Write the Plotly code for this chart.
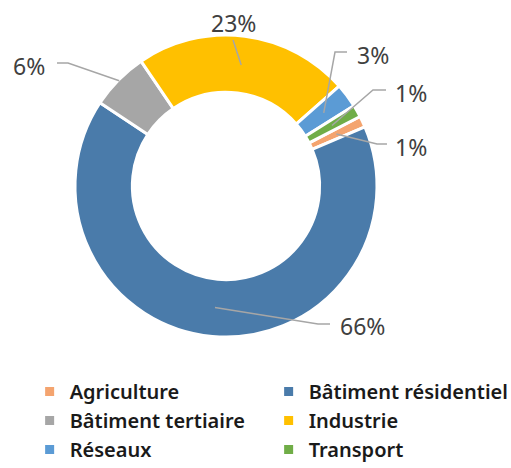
import math
import plotly.graph_objects as go

# Répartition par secteur (%)
SECTEURS = ["Agriculture", "Bâtiment résidentiel", "Bâtiment tertiaire",
            "Industrie", "Réseaux", "Transport"]
PARTS = [1.2, 65.7, 6.2, 23.0, 2.6, 1.3]
COULEURS = ["#F4A46F", "#4A7BAA", "#A6A6A6", "#FFC000", "#5B9BD5", "#70AD47"]

W, H = 511, 468
CX, CY, R_OUT, HOLE = 226, 186, 151, 0.62
ROTATION = 62.6

# label placement (pixels): text anchor, anchor side, elbow points, leader radius
LABELS = [
    dict(tx=393, ty=147, side="left", elbow=[(387, 144), (377, 144)], r=122),
    dict(tx=338, ty=326, side="left", elbow=[(330, 324), (318, 324)], r=122),
    dict(tx=47, ty=66, side="right", elbow=[(57, 63), (68, 63)], r=150),
    dict(tx=233, ty=23, side="center", elbow=[(233, 40)], r=122),
    dict(tx=355, ty=55, side="left", elbow=[(347, 52), (335, 52)], r=122),
    dict(tx=393, ty=93, side="left", elbow=[(386, 90), (373, 90)], r=122),
]


def px(x, y):
    return x / W, 1 - y / H


fig = go.Figure(go.Pie(
    labels=SECTEURS,
    values=PARTS,
    hole=HOLE,
    sort=False,
    direction="clockwise",
    rotation=ROTATION,
    marker=dict(colors=COULEURS, line=dict(color="white", width=3)),
    textinfo="none",
    domain=dict(x=[(CX - R_OUT) / W, (CX + R_OUT) / W],
                y=[1 - (CY + R_OUT) / H, 1 - (CY - R_OUT) / H]),
))

total = sum(PARTS)
cum = 0
shapes, annotations = [], []
for val, lab in zip(PARTS, LABELS):
    mid = math.radians(ROTATION + (cum + val / 2) / total * 360)
    cum += val
    ax = CX + lab["r"] * math.sin(mid)
    ay = CY - lab["r"] * math.cos(mid)
    pts = lab["elbow"] + [(ax, ay)]
    path = "M " + " L ".join("%.4f,%.4f" % px(x, y) for x, y in pts)
    shapes.append(dict(type="path", xref="paper", yref="paper", path=path,
                       line=dict(color="#A6A6A6", width=1.5)))
    x, y = px(lab["tx"], lab["ty"])
    annotations.append(dict(
        x=x, y=y, xref="paper", yref="paper", showarrow=False,
        xanchor=lab["side"], yanchor="middle",
        text="%d%%" % round(val / total * 100),
        font=dict(family="Noto Sans, Open Sans, sans-serif", size=23, color="#404040"),
    ))

fig.update_layout(
    width=W, height=H,
    margin=dict(l=0, r=0, t=0, b=0, autoexpand=False),
    paper_bgcolor="white",
    shapes=shapes,
    annotations=annotations,
    legend=dict(
        orientation="h", x=0.058, xanchor="left", y=0.205, yanchor="top",
        entrywidth=194, traceorder="normal",
        font=dict(family="Noto Sans, Open Sans, sans-serif", size=20,
                  color="#1A1A1A", weight=600),
    ),
)

# drop the default page margin so the figure sits at the window corner
fig.write_html("out.html", config={"displayModeBar": False},
               post_script="document.body.style.margin='0';")
